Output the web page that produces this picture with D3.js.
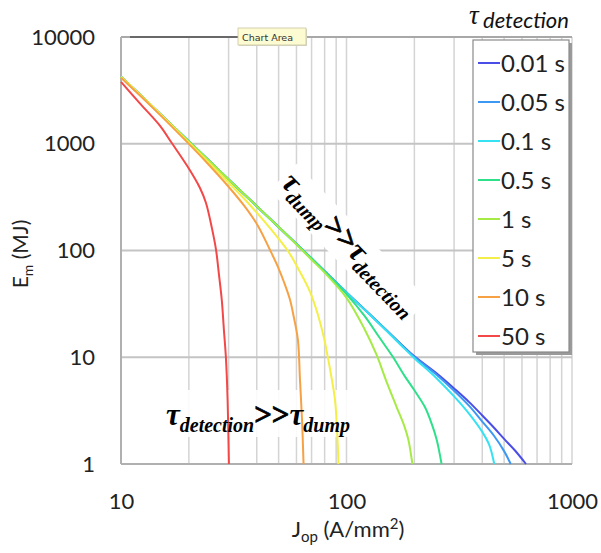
<!DOCTYPE html>
<html>
<head>
<meta charset="utf-8">
<script src="https://cdn.jsdelivr.net/npm/d3@7"></script>
<style>
  html, body { margin: 0; padding: 0; background: #fff; }
  svg { display: block; }
</style>
</head>
<body>
<div id="chart"></div>
<script>
// ---------------- data ----------------
const seriesNames = ["0.01 s", "0.05 s", "0.1 s", "0.5 s", "1 s", "5 s", "10 s", "50 s"];
const xTickValues = [10, 100, 1000];
const yTickValues = [1, 10, 100, 1000, 10000];

// [J_op (A/mm2), E_m (MJ)]
const s001 = [[10,4250],[12,2950],[15,1880],[20,1050],[25,670],[30,462],[40,260],[50,166],[60,115],[70,84],[80,64],[100,40.5],[125,26],[150,18],[175,13.2],[200,10.2],[250,7.1],[300,5.1],[350,3.8],[400,2.85],[450,2.2],[500,1.72],[560,1.33],[625,1]];
const s005 = [[10,4250],[12,2950],[15,1880],[20,1050],[25,670],[30,462],[40,260],[50,166],[60,115],[70,84],[80,64],[100,40.5],[125,26],[150,18],[175,13.1],[200,10.1],[250,6.9],[300,4.85],[350,3.5],[400,2.5],[450,1.85],[500,1.32],[535,1]];
const s01  = [[10,4250],[12,2950],[15,1880],[20,1050],[25,670],[30,462],[40,260],[50,166],[60,115],[70,84],[80,64],[100,40.3],[125,25.8],[150,17.8],[175,12.9],[200,9.8],[250,6.4],[300,4.3],[350,2.95],[400,2.0],[430,1.5],[452,1]];
const s05  = [[10,4250],[12,2950],[15,1880],[20,1050],[25,670],[30,462],[40,260],[50,166],[60,115],[70,84],[80,63.5],[100,39],[120,24.5],[140,15.3],[161,10],[180,6.8],[200,4.9],[223,3.4],[240,2.3],[251,1.7],[258,1.3],[264,1]];
const s1   = [[10,4250],[12,2950],[15,1880],[20,1050],[25,670],[30,462],[40,260],[50,166],[60,114],[70,82],[80,62],[100,36],[120,18.5],[136,10.5],[150,6],[167,3.4],[180,2.3],[188,1.7],[196,1]];
const s5   = [[10,4250],[12,2950],[15,1880],[20.2,1000],[30.4,420],[37.3,267],[45.8,162],[55,99],[62.2,63],[68.9,41],[74.7,25],[79.5,15.1],[82.8,9.8],[86.2,6.1],[88.9,4],[90.8,2.1],[92.1,1]];
const s10  = [[10,4150],[13.45,2300],[20.2,975],[24.8,619],[29.8,402],[35.5,256],[40.5,170],[45.8,101],[49.7,70],[52.8,50.7],[56.2,34.4],[58.5,23.3],[60.9,14.5],[62.2,6.1],[63.5,2.6],[64.5,1]];
const s50  = [[10,3800],[12.1,2400],[14.9,1470],[16.8,1015],[19.8,605],[22.4,385],[23.8,280],[25.3,162],[26.4,101],[27.2,59],[28,34],[28.6,18],[29.2,9.8],[29.7,4],[30.1,1]];
const seriesData = [s001, s005, s01, s05, s1, s5, s10, s50];

// ---------------- styles ----------------
const palette = ["#4b4ee6", "#3d98f3", "#35e2f2", "#2ee08a", "#a6eb45", "#f4ef46", "#f7a145", "#f24848"];

const W = 601, H = 553;
const margin = {left: 121, right: 29, top: 37, bottom: 89};
const svg = d3.select("#chart").append("svg").attr("width", W).attr("height", H);

const x = d3.scaleLog().domain([10, 1000]).range([margin.left, W - margin.right]);
const y = d3.scaleLog().domain([1, 10000]).range([H - margin.bottom, margin.top]);

// ---------------- grid ----------------
const grid = svg.append("g");
grid.selectAll("line.vx").data(x.ticks()).join("line")
  .attr("x1", d => x(d)).attr("x2", d => x(d))
  .attr("y1", y(10000)).attr("y2", y(1))
  .attr("stroke", "#d4d4d4").attr("stroke-width", 1.5);
grid.selectAll("line.hy").data(yTickValues).join("line")
  .attr("x1", x(10)).attr("x2", x(1000))
  .attr("y1", d => y(d)).attr("y2", d => y(d))
  .attr("stroke", d => d === 10000 ? "#a8a8a8" : "#c4c4c4").attr("stroke-width", 2);
// plot frame: left & bottom axis lines, top border
svg.append("line").attr("x1", x(10)).attr("x2", x(10)).attr("y1", y(10000)).attr("y2", y(1))
  .attr("stroke", "#b0b0b0").attr("stroke-width", 2);
svg.append("line").attr("x1", x(10)).attr("x2", x(1000)).attr("y1", y(1)).attr("y2", y(1))
  .attr("stroke", "#b0b0b0").attr("stroke-width", 2);
svg.append("line").attr("x1", x(10) + 9).attr("x2", 240).attr("y1", y(10000)).attr("y2", y(10000))
  .attr("stroke", "#555").attr("stroke-width", 1.5);

// ---------------- annotation backgrounds (under curves) ----------------
const annBg = svg.append("g");
annBg.append("rect").attr("x", 125).attr("y", 390).attr("width", 245).attr("height", 47)
  .attr("fill", "#fff").attr("opacity", 0.88);
const rotT = "translate(280,184) rotate(46)";
const rotBg = annBg.append("g").attr("transform", rotT);

// ---------------- curves ----------------
const line = d3.line().x(d => x(d[0])).y(d => y(d[1])).curve(d3.curveCatmullRom.alpha(0.5));
svg.append("g").selectAll("path").data(seriesData).join("path")
  .attr("d", line)
  .attr("fill", "none")
  .attr("stroke", (d, i) => palette[i])
  .attr("stroke-width", 2)
  .attr("stroke-linejoin", "round");

// ---------------- axes ----------------
const fmt = d => String(d);
const xAxis = svg.append("g").attr("transform", `translate(0,${y(1)})`)
  .call(d3.axisBottom(x).tickValues(xTickValues).tickFormat(fmt).tickSize(0).tickPadding(29));
xAxis.select(".domain").remove();
xAxis.selectAll("text").attr("font-family", "Lato, 'Open Sans', sans-serif")
  .attr("font-size", 22).attr("fill", "#222");

const yAxis = svg.append("g").attr("transform", `translate(${x(10)},0)`)
  .call(d3.axisLeft(y).tickValues(yTickValues).tickFormat(fmt).tickSize(0).tickPadding(26));
yAxis.select(".domain").remove();
yAxis.selectAll("text").attr("font-family", "Lato, 'Open Sans', sans-serif")
  .attr("font-size", 22).attr("fill", "#222");

// axis titles
const yt = svg.append("text").attr("transform", "translate(28,254) rotate(-90)")
  .attr("text-anchor", "middle").attr("font-family", "Lato, 'Open Sans', sans-serif")
  .attr("font-size", 21).attr("fill", "#222");
yt.append("tspan").text("E");
yt.append("tspan").text("m").attr("font-size", 14).attr("dy", 5);
yt.append("tspan").text(" (MJ)").attr("dy", -5);

const xt = svg.append("text").attr("x", 348).attr("y", 537)
  .attr("text-anchor", "middle").attr("font-family", "Lato, 'Open Sans', sans-serif")
  .attr("font-size", 22).attr("fill", "#222");
xt.append("tspan").text("J");
xt.append("tspan").text("op").attr("font-size", 15).attr("dy", 5);
xt.append("tspan").text(" (A/mm").attr("dy", -5);
xt.append("tspan").text("2").attr("font-size", 15).attr("dy", -8);
xt.append("tspan").text(")").attr("dy", 8);

// ---------------- legend ----------------
const lg = svg.append("g");
const lgX = 473, lgY = 40, lgW = 96, lgH = 312;
lg.append("rect").attr("x", lgX + 3).attr("y", lgY + 3).attr("width", lgW).attr("height", lgH)
  .attr("fill", "#9a9a9a");
lg.append("rect").attr("x", lgX).attr("y", lgY).attr("width", lgW).attr("height", lgH)
  .attr("fill", "#fff").attr("stroke", "#8a8a8a").attr("stroke-width", 1.2);
const items = lg.selectAll("g.item").data(seriesNames).join("g")
  .attr("transform", (d, i) => `translate(${lgX},${lgY + 23 + i * 39})`);
items.append("line").attr("x1", 5).attr("x2", 27).attr("y1", 0).attr("y2", 0)
  .attr("stroke", (d, i) => palette[i]).attr("stroke-width", 2);
items.append("text").attr("x", 28).attr("y", 9).text(d => d)
  .attr("font-family", "Lato, 'Open Sans', sans-serif").attr("font-size", 24).attr("fill", "#222");

// legend title
svg.append("text").attr("x", 469).attr("y", 24).text("τ")
  .attr("font-family", "'Liberation Serif', serif").attr("font-style", "italic")
  .attr("font-size", 27).attr("fill", "#111");
svg.append("text").attr("x", 483).attr("y", 28).text("detection")
  .attr("font-family", "Lato, 'Open Sans', sans-serif").attr("font-style", "italic")
  .attr("font-size", 22).attr("fill", "#111");

// ---------------- annotations ----------------
function annot(sel, a, b) {
  const t = sel.append("text").attr("font-family", "'Liberation Serif', 'Times New Roman', serif")
    .attr("font-weight", "bold").attr("font-style", "italic").attr("fill", "#000");
  t.append("tspan").text("τ").attr("font-size", 31);
  t.append("tspan").text(a).attr("font-size", 20).attr("dy", 7);
  t.append("tspan").text(">>").attr("font-size", 31).attr("dy", -7).attr("font-style", "normal")
    .attr("stroke", "#000").attr("stroke-width", 0.8);
  t.append("tspan").text("τ").attr("font-size", 31);
  t.append("tspan").text(b).attr("font-size", 20).attr("dy", 7);
  return t;
}
const rotG = svg.append("g").attr("transform", rotT);
const t1 = annot(rotG, "dump", "detection");
const bb = t1.node().getBBox();
rotBg.append("rect").attr("x", bb.x - 3).attr("y", bb.y + 2).attr("width", bb.width + 6).attr("height", bb.height - 2)
  .attr("fill", "#fff");

const t2 = annot(svg.append("g").attr("transform", "translate(166,425)"), "detection", "dump");

// ---------------- "Chart Area" tooltip ----------------
const tip = svg.append("g").attr("transform", "translate(238,28)");
tip.append("rect").attr("x", 1).attr("y", 1).attr("width", 68).attr("height", 17).attr("fill", "#d8d8c8");
tip.append("rect").attr("width", 68).attr("height", 17).attr("fill", "#fdfbd2").attr("stroke", "#c9c6a0").attr("stroke-width", 0.8);
tip.append("text").attr("x", 4).attr("y", 12.5).text("Chart Area")
  .attr("font-family", "'DejaVu Sans', sans-serif").attr("font-size", 9.5).attr("fill", "#333");
</script>
</body>
</html>
